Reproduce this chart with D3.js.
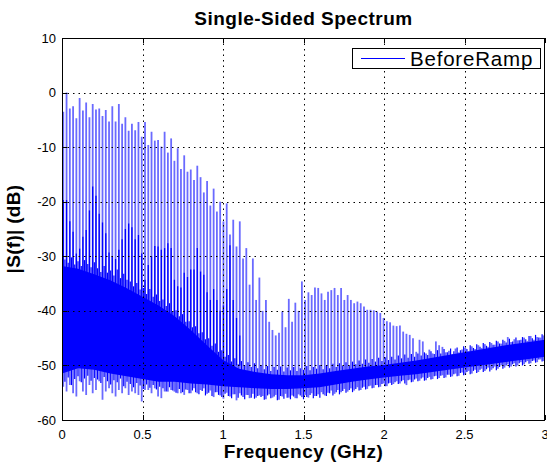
<!DOCTYPE html>
<html>
<head>
<meta charset="utf-8">
<script src="https://cdn.jsdelivr.net/npm/d3@7"></script>
<style>
  body { margin: 0; background: #fff; }
  svg { display: block; }
  text { font-family: "Liberation Sans", Arial, Helvetica, sans-serif; fill: #000; }
</style>
</head>
<body>
<svg id="chart" width="547" height="466"></svg>
<script>
// harmonic comb: first line and spacing (GHz)
const combStart = 0.008;
const combStep = 0.0203;

// top of each harmonic line (dB)
const peakDb = [
  -3.5, 0.0, -2.9, -2.5, -4.7, -1.0, -3.3, -1.8, -4.5, -2.1,
  -3.1, -2.9, -4.3, -3.2, -5.3, -2.5, -5.3, -2.1, -5.7, -4.5,
  -7.0, -5.7, -6.9, -5.4, -8.1, -5.4, -9.6, -7.2, -8.8, -8.7,
  -9.9, -7.2, -11.0, -8.4, -12.5, -10.2, -14.0, -11.5, -14.5, -14.1,
  -16.0, -13.4, -15.5, -18.3, -16.2, -20.7, -17.6, -21.8, -20.0, -23.6,
  -20.3, -26.0, -23.3, -28.2, -23.6, -30.4, -28.5, -35.2, -30.4, -38.0,
  -33.9, -40.0, -38.0, -42.0, -43.5, -44.5, -44.0, -40.1, -43.0, -37.8,
  -42.0, -38.5, -40.0, -34.6, -38.0, -36.6, -37.1, -35.7, -35.8, -36.8,
  -38.0, -36.5, -36.2, -35.8, -37.1, -35.8, -38.0, -37.1, -38.0, -38.6,
  -38.3, -38.6, -39.2, -39.8, -39.8, -39.9, -40.1, -40.4, -41.3, -41.9,
  -42.1, -42.7, -42.8, -42.7, -43.8, -44.2, -44.4, -45.0, -47.5, -45.3,
  -45.6, -47.8, -47.1, -47.8, -45.6, -46.3, -46.6, -47.6, -47.3, -47.9,
  -46.9, -47.6, -47.1, -46.8, -47.4, -46.5, -47.0, -46.3, -46.8, -46.1,
  -46.6, -45.9, -46.2, -45.6, -46.0, -45.5, -44.8, -45.7, -45.2, -45.4,
  -45.3, -44.9, -45.5, -44.6, -45.3, -44.8, -44.9, -44.5
];

// dense (overlapping) part of the first harmonic lines (dB)
const coreDb = [
  -19.7, -19.7, -23.6, -25.5, -29.5, -28.6, -26.4, -25.2, -21.6, -17.2,
  -18.9, -22.2, -23.8, -25.8, -29.3, -30.0, -30.5, -28.8, -26.9, -25.0,
  -24.0, -24.7, -26.9, -26.1, -29.5, -34.3, -31.6, -30.0, -28.1, -28.2,
  -28.8, -28.5, -27.6, -28.5, -34.3, -35.5, -35.7, -33.0, -33.8, -32.4,
  -32.4, -28.5, -32.8, -33.4, -36.6, -38.0, -36.0, -38.0, -40.0, -39.0,
  -36.0, -28.0, -38.0, -41.3, -44.5
];

// lowest point reached next to each harmonic line (dB)
const dipDb = [
  -53.9, -54.8, -53.6, -55.1, -55.7, -52.9, -54.8, -55.4, -53.6, -55.1,
  -54.5, -52.9, -56.3, -54.8, -54.2, -55.1, -55.7, -54.5, -55.1, -54.2,
  -55.4, -54.8, -55.1, -55.4, -56.6, -54.5, -54.5, -55.1, -54.2, -55.7,
  -56.0, -54.8, -54.8, -54.5, -54.8, -55.1, -55.1, -55.4, -54.5, -55.1,
  -54.2, -55.1, -54.5, -54.2, -55.2, -54.6, -55.8, -54.9, -55.5, -56.1,
  -55.0, -55.7, -55.3, -56.4, -55.1, -55.8, -55.4, -56.0, -55.2, -55.9,
  -55.5, -55.6, -56.2, -55.3, -55.9, -55.4, -56.3, -55.7, -55.2, -55.9,
  -55.5, -56.0, -55.3, -55.8, -55.4, -55.9, -55.1, -55.6, -55.3, -54.9,
  -55.5, -55.0, -54.6, -55.2, -54.5, -54.9, -54.3, -54.8, -54.2, -54.6,
  -54.0, -54.5, -53.9, -54.3, -53.7, -54.1, -53.6, -53.9, -53.3, -53.8,
  -53.2, -53.4, -52.9, -53.3, -52.7, -53.6, -52.6, -53.0, -52.4, -52.8,
  -52.2, -52.7, -52.1, -52.5, -51.9, -52.3, -51.8, -52.2, -51.7, -52.0,
  -51.5, -51.9, -51.3, -51.7, -51.0, -51.5, -50.8, -51.2, -50.6, -51.0,
  -50.4, -50.8, -50.2, -50.6, -50.0, -50.4, -49.8, -50.2, -49.6, -50.0,
  -49.4, -49.8, -49.2, -49.6, -49.1, -49.4, -48.9, -49.2
];

// noise between the harmonic lines: highest and lowest excursion (dB)
const noiseHiDb = [
  -30.6, -31.2, -30.2, -31.5, -30.9, -31.8, -30.7, -31.4, -32.0, -31.1,
  -32.2, -32.9, -31.8, -33.0, -32.6, -33.5, -32.4, -34.0, -33.2, -34.3,
  -34.6, -35.5, -34.9, -36.1, -35.8, -36.9, -36.0, -37.4, -37.0, -38.2,
  -37.9, -39.1, -38.6, -40.2, -39.9, -41.0, -40.6, -42.0, -41.9, -43.0,
  -42.8, -44.1, -43.9, -45.2, -45.0, -46.4, -46.0, -47.5, -47.2, -48.4,
  -48.1, -49.3, -48.7, -49.8, -49.2, -50.0, -49.4, -50.3, -49.6, -50.5,
  -49.9, -50.7, -50.1, -51.0, -50.3, -50.8, -50.2, -51.1, -50.4, -50.9,
  -50.3, -51.0, -50.5, -50.8, -50.1, -50.9, -50.3, -50.6, -49.9, -50.7,
  -50.0, -50.5, -49.7, -50.3, -49.6, -50.1, -49.4, -50.0, -49.3, -49.8,
  -49.1, -49.7, -48.9, -49.5, -48.8, -49.3, -48.6, -49.2, -48.5, -49.0,
  -48.4, -48.9, -48.2, -48.7, -48.0, -48.6, -47.9, -48.4, -47.8, -48.2,
  -47.6, -48.1, -47.4, -47.9, -47.2, -47.8, -47.0, -47.6, -46.9, -47.4,
  -46.7, -47.2, -46.5, -47.0, -46.3, -46.8, -46.1, -46.6, -45.9, -46.4,
  -45.7, -46.2, -45.5, -46.0, -45.3, -45.8, -45.1, -45.6, -44.9, -45.4,
  -44.8, -45.2, -44.6, -45.0, -44.4, -44.9, -44.3
];
const noiseLoDb = [
  -53.0, -52.2, -53.6, -52.5, -52.0, -53.1, -52.4, -51.9, -52.8, -52.3,
  -52.6, -53.2, -52.1, -52.9, -53.5, -52.7, -53.1, -52.4, -53.8, -53.0,
  -53.4, -54.0, -53.2, -53.7, -54.3, -53.5, -54.1, -53.6, -54.4, -53.9,
  -54.2, -54.8, -54.0, -54.6, -55.0, -54.3, -54.9, -54.4, -55.1, -54.6,
  -54.9, -55.3, -54.7, -55.5, -55.0, -55.6, -54.9, -55.4, -55.8, -55.2,
  -55.6, -56.0, -55.3, -55.9, -55.5, -56.2, -55.4, -55.9, -56.1, -55.6,
  -55.8, -56.3, -55.5, -56.0, -55.7, -56.4, -55.6, -56.1, -55.9, -56.2,
  -55.7, -56.0, -55.5, -56.2, -55.8, -55.4, -56.0, -55.6, -55.9, -55.3,
  -55.6, -55.1, -55.5, -54.9, -55.3, -54.7, -55.0, -54.5, -54.9, -54.3,
  -54.6, -54.1, -54.4, -53.8, -54.2, -53.6, -54.0, -53.4, -53.8, -53.3,
  -53.6, -53.1, -53.4, -52.9, -53.3, -52.7, -53.1, -52.6, -52.9, -52.4,
  -52.8, -52.3, -52.6, -52.0, -52.5, -51.9, -52.3, -51.7, -52.1, -51.6,
  -52.0, -51.4, -51.8, -51.2, -51.6, -51.0, -51.4, -50.8, -51.2, -50.7,
  -51.1, -50.5, -50.9, -50.3, -50.6, -50.0, -50.4, -49.8, -50.2, -49.6,
  -50.0, -49.4, -49.7, -49.2, -49.5, -48.9, -49.3
];

// solid noise band, edges read every 0.1 GHz
const bandFreq = [0, 0.1, 0.2, 0.3, 0.4, 0.5, 0.6, 0.7, 0.8, 0.9, 1.0, 1.1, 1.2, 1.3, 1.4, 1.5,
  1.6, 1.7, 1.8, 1.9, 2.0, 2.1, 2.2, 2.3, 2.4, 2.5, 2.6, 2.7, 2.8, 2.9, 3.0];
const bandTop = [-31.8, -32.3, -33.3, -34.4, -35.8, -37.4, -39.0, -41.0, -43.5, -46.3, -49.0,
  -50.6, -51.2, -51.6, -51.8, -51.8, -51.5, -51.0, -50.6, -50.2, -49.9, -49.5, -49.1,
  -48.6, -48.1, -47.6, -47.1, -46.6, -46.1, -45.7, -45.3];
const bandBottom = [-51.5, -50.5, -50.8, -51.5, -52.0, -52.5, -53.0, -53.0, -53.3, -53.5, -53.8,
  -54.0, -54.2, -54.3, -54.3, -54.2, -54.0, -53.5, -53.0, -52.6, -52.2, -51.9, -51.6,
  -51.2, -50.8, -50.4, -50.0, -49.6, -49.2, -48.8, -48.4];

const xTicks = [0, 0.5, 1, 1.5, 2, 2.5, 3];
const yTicks = [10, 0, -10, -20, -30, -40, -50, -60];
const seriesName = "BeforeRamp";

var svg = d3.select("#chart");
var mLeft = 62, mRight = 545, mTop = 38, mBottom = 420;

var x = d3.scaleLinear().domain([0, 3]).range([mLeft, mRight]);
var y = d3.scaleLinear().domain([-60, 10]).range([mBottom, mTop]);

var blue = "#0000ff";

svg.append("defs").append("clipPath").attr("id", "plotclip")
  .append("rect").attr("x", mLeft).attr("y", mTop).attr("width", mRight - mLeft).attr("height", mBottom - mTop);

var plot = svg.append("g").attr("clip-path", "url(#plotclip)");

var lines = peakDb.map(function(p, i) {
  return { f: combStart + i * combStep, peak: p, dip: dipDb[i], core: coreDb[i] };
});
var noise = noiseHiDb.map(function(h, i) {
  return { f: combStart + (i + 0.5) * combStep, hi: h, lo: noiseLoDb[i] };
});

// thin harmonic lines (antialiased look)
plot.append("g").selectAll("line")
  .data(lines)
  .enter().append("line")
  .attr("x1", function(d) { return x(d.f); })
  .attr("x2", function(d) { return x(d.f); })
  .attr("y1", function(d) { return y(d.dip); })
  .attr("y2", function(d) { return y(d.peak); })
  .attr("stroke", "#6a6aff")
  .attr("stroke-width", 1.8);

// noise band
var band = bandFreq.map(function(f, i) { return { f: f, hi: bandTop[i], lo: bandBottom[i] }; });
plot.append("path")
  .datum(band)
  .attr("fill", blue)
  .attr("d", d3.area()
    .x(function(d) { return x(d.f); })
    .y0(function(d) { return y(d.lo); })
    .y1(function(d) { return y(d.hi); }));

// ragged noise edges between the lines
plot.append("g").selectAll("line")
  .data(noise)
  .enter().append("line")
  .attr("x1", function(d) { return x(d.f); })
  .attr("x2", function(d) { return x(d.f); })
  .attr("y1", function(d) { return y(d.lo); })
  .attr("y2", function(d) { return y(d.hi); })
  .attr("stroke", blue)
  .attr("stroke-width", 1.2);

// dark overlapping part of the low harmonics
plot.append("g").selectAll("line")
  .data(lines.filter(function(d) { return d.core !== undefined; }))
  .enter().append("line")
  .attr("x1", function(d) { return x(d.f); })
  .attr("x2", function(d) { return x(d.f); })
  .attr("y1", y(-50))
  .attr("y2", function(d) { return y(d.core); })
  .attr("stroke", blue)
  .attr("stroke-width", 1.3);

// dotted grid on top of the data
var grid = svg.append("g").attr("stroke", "#000").attr("stroke-width", 1).attr("stroke-dasharray", "1.5,4");
grid.selectAll(".gx").data(xTicks.slice(1, -1)).enter().append("line")
  .attr("x1", function(d) { return Math.round(x(d)) + 0.5; })
  .attr("x2", function(d) { return Math.round(x(d)) + 0.5; })
  .attr("y1", mTop).attr("y2", mBottom);
grid.selectAll(".gy").data(yTicks.slice(1, -1)).enter().append("line")
  .attr("y1", function(d) { return Math.round(y(d)) + 0.5; })
  .attr("y2", function(d) { return Math.round(y(d)) + 0.5; })
  .attr("x1", mLeft).attr("x2", mRight);

// axes box and inward ticks
var ax = svg.append("g").attr("stroke", "#000").attr("stroke-width", 1).attr("fill", "none");
ax.append("rect").attr("x", mLeft + 0.5).attr("y", mTop + 0.5)
  .attr("width", mRight - mLeft - 1).attr("height", mBottom - mTop);
xTicks.forEach(function(t) {
  var px = Math.round(x(t)) + 0.5;
  ax.append("line").attr("x1", px).attr("x2", px).attr("y1", mBottom).attr("y2", mBottom - 5);
  ax.append("line").attr("x1", px).attr("x2", px).attr("y1", mTop).attr("y2", mTop + 5);
});
yTicks.forEach(function(t) {
  var py = Math.round(y(t)) + 0.5;
  ax.append("line").attr("x1", mLeft).attr("x2", mLeft + 5).attr("y1", py).attr("y2", py);
  ax.append("line").attr("x1", mRight).attr("x2", mRight - 5).attr("y1", py).attr("y2", py);
});

// tick labels
svg.append("g").selectAll("text").data(xTicks).enter().append("text")
  .attr("x", function(d) { return x(d); })
  .attr("y", mBottom + 19)
  .attr("text-anchor", "middle")
  .style("font-size", "13px")
  .text(function(d) { return d; });
svg.append("g").selectAll("text").data(yTicks).enter().append("text")
  .attr("x", mLeft - 6)
  .attr("y", function(d) { return y(d); })
  .attr("dy", "0.35em")
  .attr("text-anchor", "end")
  .style("font-size", "13px")
  .text(function(d) { return d; });

// legend
var lg = svg.append("g");
lg.append("rect").attr("x", 352.5).attr("y", 48.5).attr("width", 188).attr("height", 20)
  .attr("fill", "#fff").attr("stroke", "#000");
lg.append("line").attr("x1", 361).attr("x2", 405).attr("y1", 58.5).attr("y2", 58.5)
  .attr("stroke", blue).attr("stroke-width", 1);
lg.append("text").attr("x", 410).attr("y", 65.5)
  .style("font-size", "20.5px").style("letter-spacing", "0.8px")
  .text(seriesName);

// titles
svg.append("text").attr("x", (mLeft + mRight) / 2).attr("y", 25)
  .attr("text-anchor", "middle")
  .style("font-size", "19px").style("font-weight", "bold").style("letter-spacing", "0.5px")
  .text("Single-Sided Spectrum");
svg.append("text").attr("x", (mLeft + mRight) / 2).attr("y", 458)
  .attr("text-anchor", "middle")
  .style("font-size", "19px").style("font-weight", "bold").style("letter-spacing", "0.5px")
  .text("Frequency (GHz)");
svg.append("text")
  .attr("transform", "translate(20," + ((mTop + mBottom) / 2) + ") rotate(-90)")
  .attr("text-anchor", "middle")
  .style("font-size", "19px").style("font-weight", "bold").style("letter-spacing", "0.3px")
  .text("|S(f)| (dB)");
</script>
</body>
</html>
